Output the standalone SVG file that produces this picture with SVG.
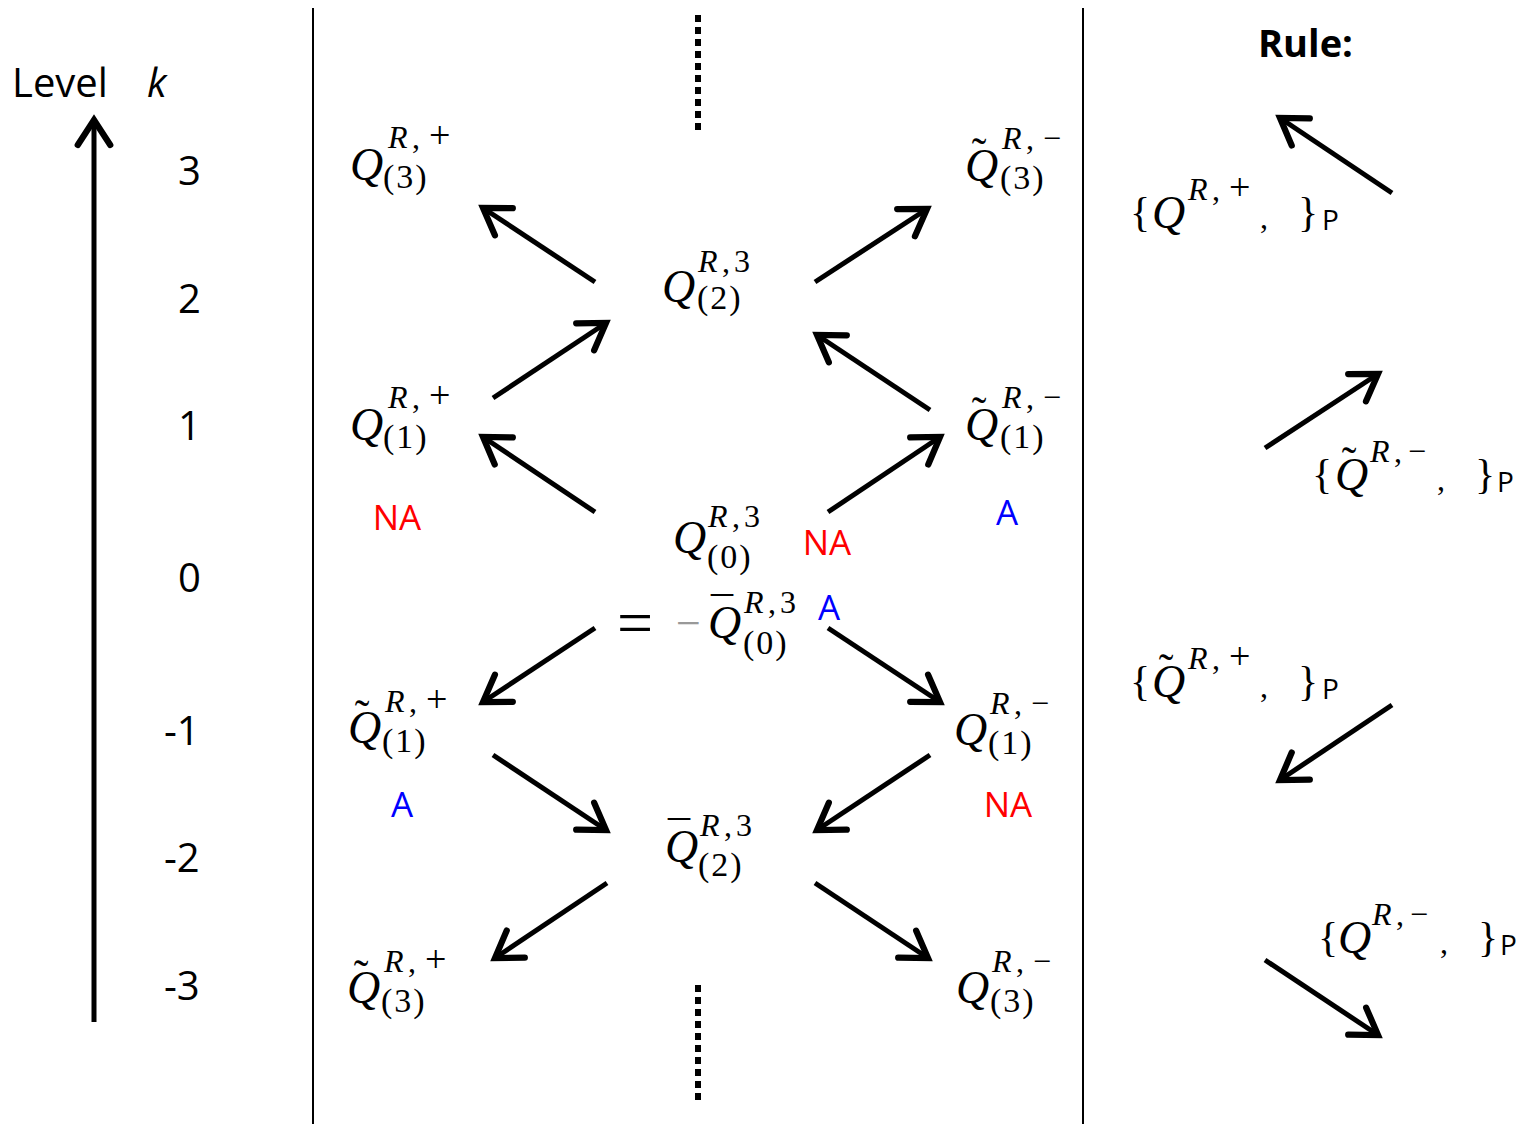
<svg xmlns="http://www.w3.org/2000/svg" width="1534" height="1124" viewBox="0 0 1534 1124">
<style>
.sans{font-family:"Open Sans","Liberation Sans",sans-serif;fill:#000}
.lbl{font-size:40px}
.na{font-family:"Open Sans","Liberation Sans",sans-serif;font-size:35px;fill:#ff0000;text-anchor:middle}
.a{font-family:"Open Sans","Liberation Sans",sans-serif;font-size:35px;fill:#0000ff;text-anchor:middle}
.mq{font-family:"Liberation Serif",serif;font-style:italic;font-size:46px;fill:#000}
.ms{font-family:"Liberation Serif",serif;font-size:32px;fill:#000}
.pl{font-size:38px}
.mb{font-family:"Liberation Serif",serif;font-size:34px;letter-spacing:2px;fill:#000}
.it{font-style:italic}
.acc{font-family:"Liberation Serif",serif;font-size:44px;text-anchor:middle;fill:#000}
.br{font-family:"Liberation Serif",serif;font-size:42px;fill:#000}
.p{font-family:"Open Sans","Liberation Sans",sans-serif;font-size:28px;fill:#000}
.conn line{stroke:#000;stroke-width:5;marker-end:url(#ah)}
</style>
<defs>
<marker id="ah" markerUnits="userSpaceOnUse" markerWidth="50" markerHeight="50" viewBox="-30 -20 40 40" refX="0" refY="0" orient="auto" overflow="visible">
<path d="M-20,-13 L0,0 L-20,13" fill="none" stroke="#000" stroke-width="5" stroke-linecap="round" stroke-linejoin="miter"/>
</marker>
</defs>
<rect width="1534" height="1124" fill="#fff"/>

<g id="frame">
<line x1="313" y1="8" x2="313" y2="1124" stroke="#000" stroke-width="2"/>
<line x1="1083" y1="8" x2="1083" y2="1124" stroke="#000" stroke-width="2"/>
<line x1="698" y1="15" x2="698" y2="135" stroke="#000" stroke-width="6" stroke-dasharray="7 5"/>
<line x1="698" y1="985" x2="698" y2="1105" stroke="#000" stroke-width="6" stroke-dasharray="7 5"/>
</g>

<g id="axis">
<text class="sans lbl" x="12" y="97">Level</text>
<text class="sans lbl" x="147" y="97" font-style="italic">k</text>
<line x1="94" y1="1022" x2="94" y2="120" stroke="#000" stroke-width="5" marker-end="url(#ah)"/>
<text class="sans lbl" x="178" y="185">3</text>
<text class="sans lbl" x="178" y="313">2</text>
<text class="sans lbl" x="178" y="440">1</text>
<text class="sans lbl" x="178" y="592">0</text>
<text class="sans lbl" x="164" y="745">-1</text>
<text class="sans lbl" x="164" y="872">-2</text>
<text class="sans lbl" x="164" y="1000">-3</text>
</g>

<text id="rule-title" class="sans" x="1258" y="57" style="font-size:38px;font-weight:bold">Rule:</text>

<g id="n-Qp3">
<text class="mq" x="350" y="180">Q</text>
<text class="ms" y="148"><tspan x="388" class="it">R</tspan><tspan x="412">,</tspan><tspan x="429" class="pl">+</tspan></text>
<text class="mb" x="383" y="188">(3)</text>
</g>
<g id="n-Qtm3">
<text class="mq" x="965" y="181">Q</text>
<text class="acc" x="979" y="168">˜</text>
<text class="ms" y="149"><tspan x="1002" class="it">R</tspan><tspan x="1026">,</tspan><tspan x="1043">−</tspan></text>
<text class="mb" x="1000" y="189">(3)</text>
</g>
<g id="n-Q32">
<text class="mq" x="662" y="302">Q</text>
<text class="ms" y="272"><tspan x="698" class="it">R</tspan><tspan x="722">,</tspan><tspan x="734">3</tspan></text>
<text class="mb" x="697" y="309">(2)</text>
</g>
<g id="n-Qp1">
<text class="mq" x="350" y="440">Q</text>
<text class="ms" y="408"><tspan x="388" class="it">R</tspan><tspan x="412">,</tspan><tspan x="429" class="pl">+</tspan></text>
<text class="mb" x="383" y="448">(1)</text>
</g>
<g id="n-Qtm1">
<text class="mq" x="965" y="440">Q</text>
<text class="acc" x="979" y="427">˜</text>
<text class="ms" y="408"><tspan x="1002" class="it">R</tspan><tspan x="1026">,</tspan><tspan x="1043">−</tspan></text>
<text class="mb" x="1000" y="448">(1)</text>
</g>
<g id="n-Q30">
<text class="mq" x="673" y="553">Q</text>
<text class="ms" y="527"><tspan x="708" class="it">R</tspan><tspan x="732">,</tspan><tspan x="744">3</tspan></text>
<text class="mb" x="707" y="568">(0)</text>
<text x="617" y="644" style="font-family:'Liberation Serif',serif;font-size:64px;fill:#000">=</text>
<text x="676" y="638" style="font-family:'Liberation Serif',serif;font-size:44px;fill:#999">−</text>
<text class="mq" x="708" y="638">Q</text>
<text class="acc" x="722" y="628">¯</text>
<text class="ms" y="613"><tspan x="744" class="it">R</tspan><tspan x="768">,</tspan><tspan x="780">3</tspan></text>
<text class="mb" x="743" y="654">(0)</text>
</g>
<g id="n-Qtp1">
<text class="mq" x="348" y="743">Q</text>
<text class="acc" x="362" y="730">˜</text>
<text class="ms" y="712"><tspan x="385" class="it">R</tspan><tspan x="409">,</tspan><tspan x="426" class="pl">+</tspan></text>
<text class="mb" x="382" y="752">(1)</text>
</g>
<g id="n-Qm1">
<text class="mq" x="954" y="745">Q</text>
<text class="ms" y="714"><tspan x="990" class="it">R</tspan><tspan x="1014">,</tspan><tspan x="1031">−</tspan></text>
<text class="mb" x="988" y="754">(1)</text>
</g>
<g id="n-Qb2">
<text class="mq" x="665" y="862">Q</text>
<text class="acc" x="679" y="852">¯</text>
<text class="ms" y="836"><tspan x="700" class="it">R</tspan><tspan x="724">,</tspan><tspan x="736">3</tspan></text>
<text class="mb" x="698" y="876">(2)</text>
</g>
<g id="n-Qtp3">
<text class="mq" x="347" y="1003">Q</text>
<text class="acc" x="361" y="990">˜</text>
<text class="ms" y="972"><tspan x="384" class="it">R</tspan><tspan x="408">,</tspan><tspan x="425" class="pl">+</tspan></text>
<text class="mb" x="381" y="1012">(3)</text>
</g>
<g id="n-Qm3">
<text class="mq" x="956" y="1003">Q</text>
<text class="ms" y="972"><tspan x="992" class="it">R</tspan><tspan x="1016">,</tspan><tspan x="1033">−</tspan></text>
<text class="mb" x="990" y="1012">(3)</text>
</g>

<g id="labels">
<text class="na" x="397" y="530">NA</text>
<text class="na" x="827" y="555">NA</text>
<text class="a" x="1007" y="525">A</text>
<text class="a" x="829" y="620">A</text>
<text class="a" x="402" y="817">A</text>
<text class="na" x="1008" y="817">NA</text>
</g>

<g id="rule1">
<text class="br" x="1130" y="226">{</text>
<text class="mq" x="1152" y="228">Q</text>
<text class="ms" y="200"><tspan x="1188" class="it">R</tspan><tspan x="1212">,</tspan><tspan x="1229" class="pl">+</tspan></text>
<text class="ms" x="1260" y="228">,</text>
<text class="br" x="1298" y="226">}</text>
<text class="p" x="1322" y="230">P</text>
</g>
<g id="rule2">
<text class="br" x="1312" y="488">{</text>
<text class="mq" x="1335" y="490">Q</text>
<text class="acc" x="1349" y="477">˜</text>
<text class="ms" y="462"><tspan x="1370" class="it">R</tspan><tspan x="1394">,</tspan><tspan x="1408">−</tspan></text>
<text class="ms" x="1437" y="490">,</text>
<text class="br" x="1475" y="488">}</text>
<text class="p" x="1497" y="492">P</text>
</g>
<g id="rule3">
<text class="br" x="1130" y="695">{</text>
<text class="mq" x="1152" y="697">Q</text>
<text class="acc" x="1166" y="684">˜</text>
<text class="ms" y="669"><tspan x="1188" class="it">R</tspan><tspan x="1212">,</tspan><tspan x="1229" class="pl">+</tspan></text>
<text class="ms" x="1260" y="697">,</text>
<text class="br" x="1298" y="695">}</text>
<text class="p" x="1322" y="699">P</text>
</g>
<g id="rule4">
<text class="br" x="1318" y="951">{</text>
<text class="mq" x="1338" y="953">Q</text>
<text class="ms" y="925"><tspan x="1372" class="it">R</tspan><tspan x="1396">,</tspan><tspan x="1410">−</tspan></text>
<text class="ms" x="1440" y="953">,</text>
<text class="br" x="1478" y="951">}</text>
<text class="p" x="1500" y="955">P</text>
</g>

<g id="connectors" class="conn">
<line x1="595" y1="282" x2="483" y2="208"/>
<line x1="493" y1="398" x2="606" y2="323"/>
<line x1="595" y1="512" x2="483" y2="437"/>
<line x1="815" y1="282" x2="927" y2="209"/>
<line x1="930" y1="410" x2="817" y2="335"/>
<line x1="828" y1="512" x2="940" y2="437"/>
<line x1="595" y1="628" x2="483" y2="702"/>
<line x1="828" y1="628" x2="940" y2="702"/>
<line x1="493" y1="755" x2="606" y2="830"/>
<line x1="930" y1="755" x2="817" y2="830"/>
<line x1="607" y1="883" x2="495" y2="958"/>
<line x1="815" y1="883" x2="928" y2="958"/>
<line x1="1392" y1="193" x2="1280" y2="118"/>
<line x1="1265" y1="448" x2="1378" y2="374"/>
<line x1="1392" y1="705" x2="1280" y2="780"/>
<line x1="1265" y1="960" x2="1378" y2="1035"/>
</g>
</svg>
